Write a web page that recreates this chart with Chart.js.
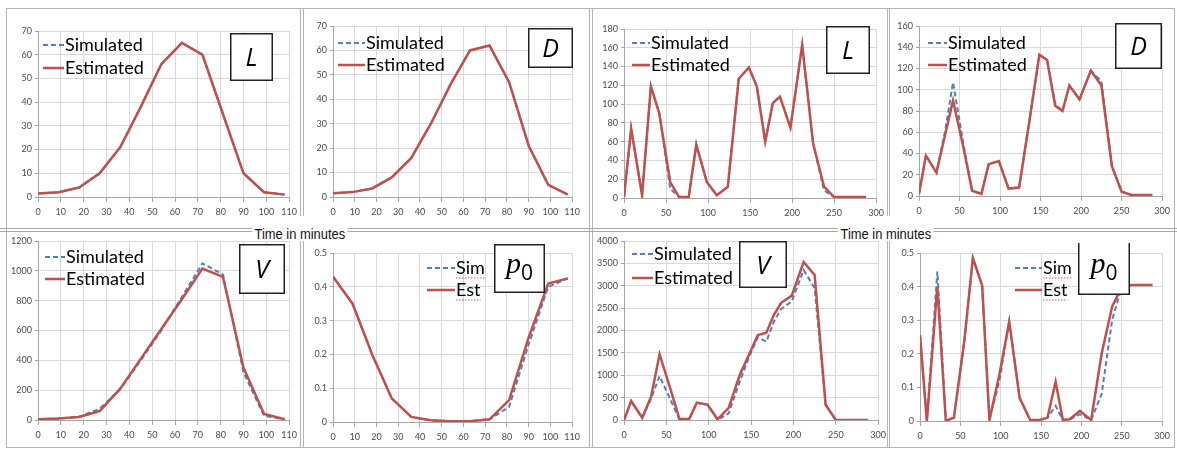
<!DOCTYPE html>
<html>
<head>
<meta charset="utf-8">
<script src="https://cdn.jsdelivr.net/npm/chart.js@4.4.0/dist/chart.umd.min.js"></script>
<style>
  html,body{margin:0;padding:0;background:#fff;}
  #wrap{position:relative;width:1177px;height:449px;overflow:hidden;background:#fff;}
  canvas{position:absolute;}
  .ln{position:absolute;background:#b4b4b4;}
  .tm{position:absolute;font-family:"Liberation Sans Narrow","Liberation Sans",Arial,sans-serif;font-size:15px;color:#111;line-height:15px;white-space:nowrap;background:#fff;padding:0 3px;transform:scaleX(0.86);transform-origin:0 0;}
</style>
</head>
<body>
<div id="wrap"></div>
<script>
// ---------- DATA ----------
const xLeft  = [0, 9, 18, 27, 36, 45, 54, 63, 72, 81, 90, 99, 108];
const xRight = [0, 8.5, 21.5, 32, 42, 55, 65.5, 77, 86, 98.5, 110.5, 123.5, 136.5, 148.5, 158, 168, 177, 185.5, 198, 212, 225, 238, 250, 262, 275, 288];

const L1_sim = [1.5, 2, 4, 10, 21, 38, 56, 65, 60, 35, 10, 2, 1];
const L1_est = [1.5, 2, 4, 10, 21, 38, 56, 65, 60, 35, 10, 2, 1];
const D1_sim = [1.5, 2, 3.5, 8, 16, 30, 46, 60, 62, 47, 21, 5, 1];
const D1_est = [1.5, 2, 3.5, 8, 16, 30, 46, 60, 62, 47, 21, 5, 1];
const V1_sim = [5, 10, 22, 75, 205, 400, 600, 825, 1050, 975, 320, 28, 5];
const V1_est = [5, 10, 20, 60, 210, 410, 610, 810, 1015, 960, 350, 40, 5];
const P1_sim = [0.43, 0.35, 0.2, 0.07, 0.015, 0.005, 0.002, 0.002, 0.008, 0.045, 0.23, 0.40, 0.425];
const P1_est = [0.43, 0.35, 0.2, 0.07, 0.015, 0.005, 0.002, 0.002, 0.008, 0.065, 0.25, 0.41, 0.425];

const L2_sim = [1, 74, 3, 119, 90, 10, 1, 1, 57, 17, 3, 12, 127, 139, 119, 60, 101, 108, 75, 163, 58, 8, 1, 1, 1, 1];
const L2_est = [1, 74, 3, 119, 90, 17, 1, 1, 57, 17, 3, 12, 127, 139, 119, 60, 101, 108, 75, 163, 58, 12, 1, 1, 1, 1];
const D2_sim = [2, 38, 22, 60, 107, 48, 5, 2, 30, 33, 7, 8, 72, 133, 128, 87, 80, 104, 91, 118, 108, 28, 4, 1, 1, 1];
const D2_est = [2, 38, 22, 57, 90, 45, 5, 2, 30, 33, 7, 8, 72, 133, 128, 85, 80, 104, 91, 118, 104, 28, 4, 1, 1, 1];
const V2_sim = [0, 420, 50, 480, 980, 450, 10, 20, 380, 340, 0, 150, 850, 1450, 1850, 1750, 2200, 2480, 2650, 3350, 2950, 330, 0, 0, 0, 0];
const V2_est = [0, 425, 50, 520, 1470, 680, 20, 25, 390, 345, 15, 270, 1000, 1500, 1900, 1950, 2350, 2620, 2780, 3530, 3240, 340, 0, 0, 0, 0];
const P2_sim = [0.256, 0, 0.445, 0, 0.01, 0.24, 0.485, 0.403, 0.003, 0.12, 0.296, 0.068, 0.003, 0.003, 0.01, 0.045, 0.003, 0.005, 0.02, 0.003, 0.08, 0.30, 0.40, 0.405, 0.405, 0.405];
const P2_est = [0.256, 0, 0.40, 0, 0.01, 0.24, 0.485, 0.403, 0.003, 0.14, 0.296, 0.068, 0.003, 0.003, 0.01, 0.117, 0.003, 0.005, 0.03, 0.003, 0.20, 0.34, 0.40, 0.405, 0.405, 0.405];

// axis ranges: [min, max, step]
const xAxisLeft  = [0, 110, 10];
const xAxisRight = [0, 300, 50];
const yAxisL1 = [0, 70, 10];
const yAxisD1 = [0, 70, 10];
const yAxisV1 = [0, 1200, 200];
const yAxisP1 = [0, 0.5, 0.1];
const yAxisL2 = [0, 180, 20];
const yAxisD2 = [0, 160, 20];
const yAxisV2 = [0, 4000, 500];
const yAxisP2 = [0, 0.5, 0.1];

const seriesNames = ['Simulated', 'Estimated'];
const seriesShort = ['Sim', 'Est'];

// ---------- LAYOUT ----------
const wrap = document.getElementById('wrap');
function line(x, y, w, h, c){ const d=document.createElement('div'); d.className='ln'; d.style.left=x+'px'; d.style.top=y+'px'; d.style.width=w+'px'; d.style.height=h+'px'; if(c) d.style.background=c; wrap.appendChild(d); }
// frames
line(6, 8, 1169, 1);
line(6, 8, 1, 440);
line(6, 447, 1169, 1);
line(1174, 8, 1, 440);
line(300, 8, 1, 208); line(303, 8, 1, 208);
line(300, 237, 1, 211); line(303, 237, 1, 211);
line(589, 8, 1, 440); line(592, 8, 1, 440);
line(887, 8, 1, 208); line(889, 8, 1, 208);
line(887, 237, 1, 211); line(889, 237, 1, 211);
// double horizontal separators
line(0, 228, 1177, 1, '#a8a8a8');
line(0, 231, 1177, 1, '#a8a8a8');

function timeLabel(x){ const d=document.createElement('div'); d.className='tm'; d.textContent='Time in minutes'; d.style.left=x+'px'; d.style.top='226px'; wrap.appendChild(d); }
timeLabel(252);
timeLabel(838);

const SIM_COLOR = '#4f81bd';
const EST_COLOR = '#c0504d';

const panels = [
  {l:38,  t:31,  r:290,  b:197, xs:xLeft,  sim:L1_sim, est:L1_est, xa:xAxisLeft,  ya:yAxisL1, lg:{x:43,  y:45,  len:21, gap:23, names:seriesNames}, box:{x:230, y:33,  w:43, h:48, txt:'L'}},
  {l:333, t:26,  r:573,  b:197, xs:xLeft,  sim:D1_sim, est:D1_est, xa:xAxisLeft,  ya:yAxisD1, lg:{x:338, y:43,  len:27, gap:22, names:seriesNames}, box:{x:528, y:28,  w:45, h:40, txt:'D'}},
  {l:624, t:29,  r:877,  b:198, xs:xRight, sim:L2_sim, est:L2_est, xa:xAxisRight, ya:yAxisL2, lg:{x:632, y:43,  len:18, gap:22, names:seriesNames}, box:{x:826, y:26,  w:44, h:48, txt:'L'}},
  {l:919, t:26,  r:1163, b:196, xs:xRight, sim:D2_sim, est:D2_est, xa:xAxisRight, ya:yAxisD2, lg:{x:928, y:43,  len:19, gap:22, names:seriesNames}, box:{x:1115,y:23,  w:47, h:46, txt:'D'}},
  {l:38,  t:241, r:290,  b:420, xs:xLeft,  sim:V1_sim, est:V1_est, xa:xAxisLeft,  ya:yAxisV1, lg:{x:45,  y:257, len:20, gap:22, names:seriesNames}, box:{x:239, y:244, w:46, h:50, txt:'V'}},
  {l:333, t:253, r:573,  b:422, xs:xLeft,  sim:P1_sim, est:P1_est, xa:xAxisLeft,  ya:yAxisP1, lg:{x:427, y:268, len:28, gap:22, names:seriesShort, spell:true}, box:{x:494, y:244, w:51, h:49, txt:'p', sub:'0'}},
  {l:624, t:241, r:879,  b:420, xs:xRight, sim:V2_sim, est:V2_est, xa:xAxisRight, ya:yAxisV2, lg:{x:632, y:254, len:21, gap:24, names:seriesNames}, box:{x:739, y:241, w:48, h:47, txt:'V'}},
  {l:920, t:253, r:1163, b:421, xs:xRight, sim:P2_sim, est:P2_est, xa:xAxisRight, ya:yAxisP2, lg:{x:1015,y:268, len:27, gap:22, names:seriesShort, spell:true}, box:{x:1078,y:240, w:52, h:55, txt:'p', sub:'0'}}
];

const overlayPlugin = {
  id: 'overlay',
  afterDraw(chart, args, o){
    const ctx = chart.ctx;
    const ox = o.ox, oy = o.oy;
    ctx.save();
    // legend
    const lg = o.lg;
    const order = [1, 0]; // dataset 1 = Simulated, dataset 0 = Estimated
    order.forEach((di, row) => {
      const ds = chart.data.datasets[di];
      const y = lg.y + row*lg.gap - oy;
      const x0 = lg.x - ox;
      ctx.beginPath();
      ctx.setLineDash(ds.borderDash || []);
      ctx.strokeStyle = ds.borderColor;
      ctx.lineWidth = ds.borderWidth;
      ctx.moveTo(x0, y); ctx.lineTo(x0 + lg.len, y);
      ctx.stroke();
      ctx.setLineDash([]);
      ctx.fillStyle = '#000';
      ctx.font = '18px Lato, "Open Sans", sans-serif';
      ctx.textBaseline = 'middle';
      ctx.textAlign = 'left';
      const txt = lg.names[row];
      ctx.fillText(txt, x0 + lg.len + 1, y);
      if (lg.spell){
        const w = ctx.measureText(txt).width;
        ctx.beginPath();
        ctx.strokeStyle = '#e05050';
        ctx.lineWidth = 1;
        ctx.setLineDash([1.5, 1.5]);
        ctx.moveTo(x0 + lg.len + 1, y + 10); ctx.lineTo(x0 + lg.len + 1 + w, y + 10);
        ctx.stroke();
        ctx.setLineDash([]);
      }
    });
    // label box
    const b = o.box;
    const bx = b.x - ox, by = b.y - oy;
    ctx.fillStyle = '#fff';
    ctx.fillRect(bx, by, b.w, b.h);
    ctx.strokeStyle = '#222';
    ctx.lineWidth = 1.5;
    ctx.strokeRect(bx + 0.75, by + 0.75, b.w - 1.5, b.h - 1.5);
    ctx.fillStyle = '#000';
    ctx.textBaseline = 'alphabetic';
    if (b.sub){
      ctx.font = 'italic 30px "Liberation Serif", "DejaVu Serif", serif';
      const pw = ctx.measureText(b.txt).width;
      ctx.font = '21px "Open Sans", Lato, sans-serif';
      const sw = ctx.measureText(b.sub).width;
      const sx = bx + (b.w - pw - sw)/2;
      ctx.font = 'italic 30px "Liberation Serif", "DejaVu Serif", serif';
      ctx.textAlign = 'left';
      ctx.fillText(b.txt, sx, by + b.h*0.60);
      ctx.font = '21px "Open Sans", Lato, sans-serif';
      ctx.fillText(b.sub, sx + pw, by + b.h*0.60 + 7);
    } else {
      ctx.font = 'italic 25px "Open Sans", "DejaVu Sans", sans-serif';
      ctx.textAlign = 'center';
      ctx.fillText(b.txt, bx + b.w/2, by + b.h/2 + 9);
    }
    ctx.restore();
  }
};

const YW = 36, PADR = 12, PADT = 10, XH = 24;
const tickFont = {family: 'Lato, "Open Sans", sans-serif', size: 9};
const fmt = v => String(+(+v).toFixed(3));

panels.forEach((p, i) => {
  const cv = document.createElement('canvas');
  const cl = p.l - YW, ct = p.t - PADT;
  const w = (p.r - p.l) + YW + PADR, h = (p.b - p.t) + PADT + XH;
  cv.width = w; cv.height = h;
  cv.style.left = cl + 'px'; cv.style.top = ct + 'px';
  cv.style.width = w + 'px'; cv.style.height = h + 'px';
  wrap.appendChild(cv);
  new Chart(cv.getContext('2d'), {
    type: 'line',
    data: {
      datasets: [
        {label: 'Estimated', data: p.xs.map((x, k) => ({x: x, y: p.est[k]})), borderColor: EST_COLOR, backgroundColor: EST_COLOR, borderWidth: 2.5, pointRadius: 0, tension: 0, fill: false},
        {label: 'Simulated', data: p.xs.map((x, k) => ({x: x, y: p.sim[k]})), borderColor: SIM_COLOR, backgroundColor: SIM_COLOR, borderWidth: 2, borderDash: [5, 3], pointRadius: 0, tension: 0, fill: false}
      ]
    },
    options: {
      responsive: false,
      animation: false,
      events: [],
      devicePixelRatio: 1,
      layout: {padding: {left: 0, right: PADR, top: PADT, bottom: 0}},
      plugins: {
        legend: {display: false},
        tooltip: {enabled: false},
        overlay: {ox: cl, oy: ct, lg: p.lg, box: p.box}
      },
      scales: {
        x: {
          type: 'linear', min: p.xa[0], max: p.xa[1],
          ticks: {stepSize: p.xa[2], font: tickFont, color: '#4a4a4a', padding: 5, maxRotation: 0, autoSkip: false, callback: fmt},
          grid: {color: '#d9d9d9', lineWidth: 1, tickLength: 5, tickColor: '#a6a6a6'},
          border: {color: '#a6a6a6', width: 1},
          afterFit: s => { s.height = XH; }
        },
        y: {
          type: 'linear', min: p.ya[0], max: p.ya[1],
          ticks: {stepSize: p.ya[2], font: tickFont, color: '#4a4a4a', padding: 3, autoSkip: false, callback: fmt},
          grid: {color: '#d9d9d9', lineWidth: 1, tickLength: 3, tickColor: '#a6a6a6'},
          border: {color: '#a6a6a6', width: 1},
          afterFit: s => { s.width = YW; }
        }
      }
    },
    plugins: [overlayPlugin]
  });
});
</script>
</body>
</html>
